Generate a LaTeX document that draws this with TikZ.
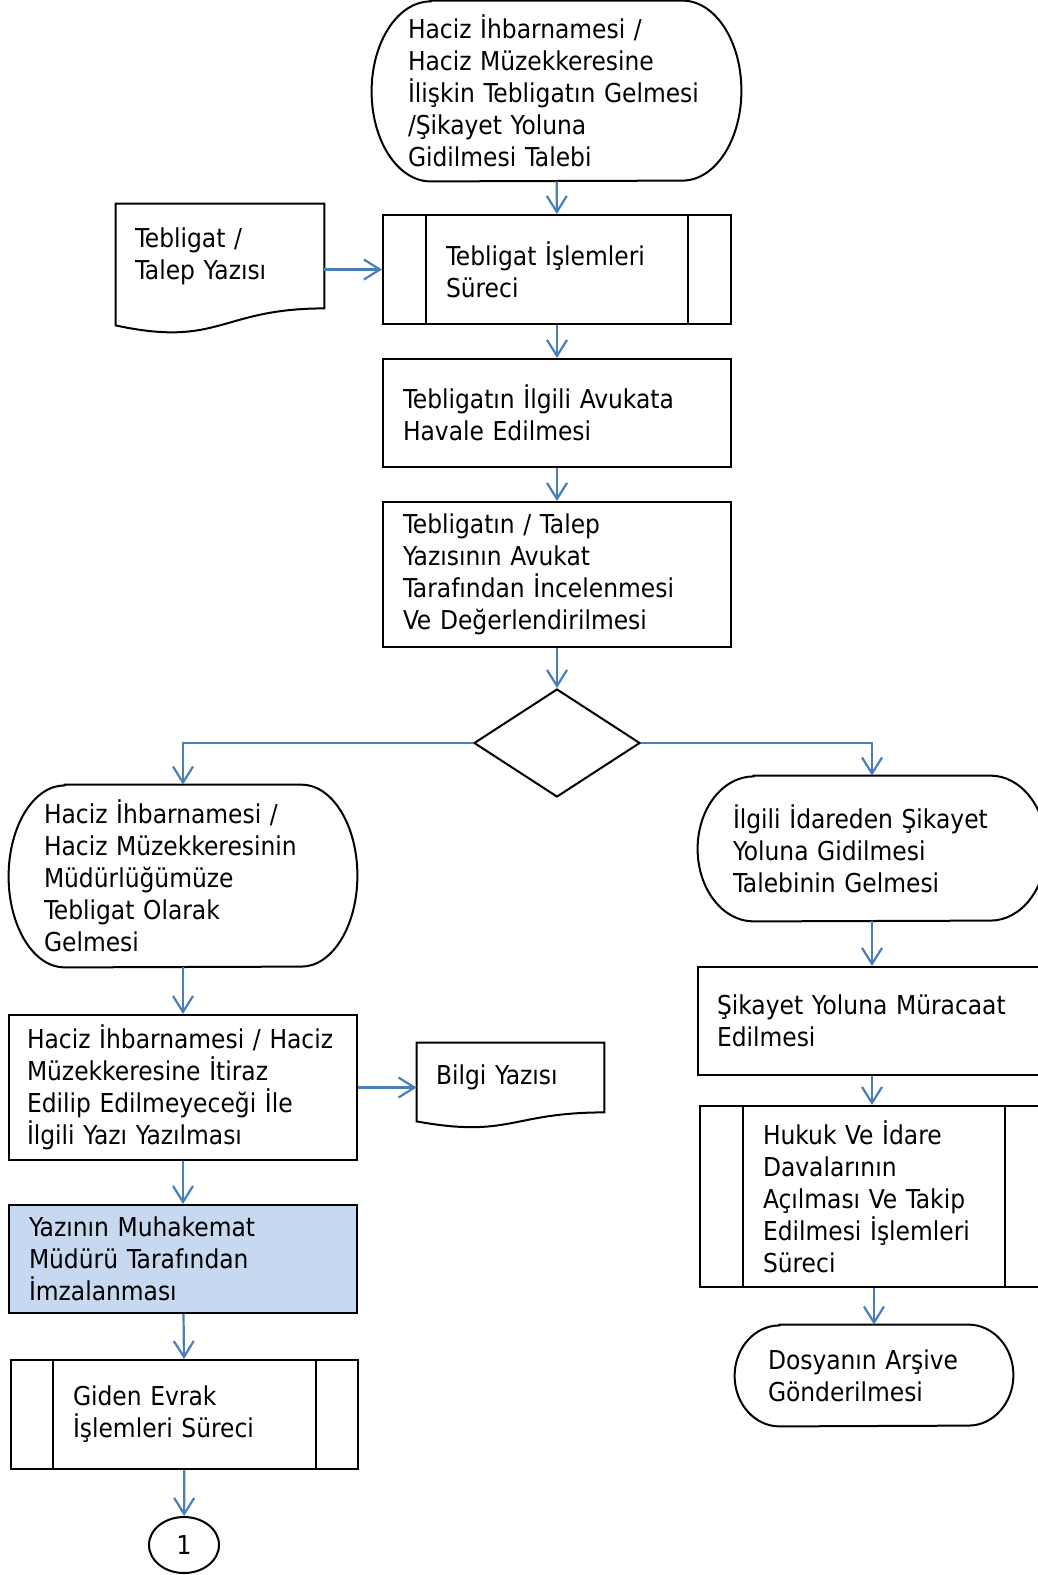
\documentclass[tikz,border=0pt]{standalone}
\usepackage{fontspec}
\setmainfont{DejaVu Sans Condensed}
\usepackage{tikz}
\usetikzlibrary{shapes.geometric,arrows.meta,calc}

\definecolor{lineblue}{HTML}{4A7EBB}
\definecolor{fillblue}{HTML}{C6D9F1}

% terminator outline round a node: name, end x radius, end y radius
\newcommand{\termline}[3]{%
  \draw[line width=1pt] ([xshift=#2]#1.north west) -- ([xshift=-#2]#1.north east)
    arc[start angle=90, end angle=-90, x radius=#2, y radius=#3]
    -- ([xshift=#2]#1.south west)
    arc[start angle=270, end angle=90, x radius=#2, y radius=#3] -- cycle;}

\begin{document}
\begin{tikzpicture}[x=0.5pt, y=-0.5pt,
  txt/.style={inner sep=0pt, align=left, font=\fontsize{13}{16}\selectfont},
  proc/.style={txt, draw, line width=1pt},
  arr/.style={draw=lineblue, line width=1.1pt, -{Straight Barb[length=8pt,width=10pt]}}]
	\clip (0,0) rectangle (1038,1575);

	% middle column
	\node[txt, minimum width=184.5pt, minimum height=90pt, text width=148.5pt] (t1) at (556.5,91)
		{Haciz İhbarnamesi /\\ Haciz Müzekkeresine\\ İlişkin Tebligatın Gelmesi\\ /Şikayet Yoluna\\ Gidilmesi Talebi};
	\termline{t1}{29.5pt}{45pt}

	\node[proc, minimum width=174pt, minimum height=54.5pt, text width=111pt] (p1) at (557,269.5)
		{Tebligat İşlemleri\\ Süreci};
	\draw[line width=1pt] ($(p1.north west)+(44,0)$) -- ($(p1.south west)+(44,0)$);
	\draw[line width=1pt] ($(p1.north east)-(44,0)$) -- ($(p1.south east)-(44,0)$);

	\node[txt, minimum width=104pt, minimum height=52pt, text width=85pt] (doc1) at (220,256)
		{Tebligat /\\ Talep Yazısı};
	\draw[line width=1pt] (doc1.north west) -- (doc1.north east) -- (doc1.south east)
		.. controls (doc1.south) and ($(doc1.south)+(0,39.5)$) .. ($(doc1.south west)+(0,17)$) -- cycle;

	\node[proc, minimum width=174pt, minimum height=54pt, text width=154pt] (b1) at (557,413)
		{Tebligatın İlgili Avukata\\ Havale Edilmesi};
	\node[proc, minimum width=174pt, minimum height=72.5pt, text width=154pt] (b2) at (557,574.5)
		{Tebligatın / Talep\\ Yazısının Avukat\\ Tarafından İncelenmesi\\ Ve Değerlendirilmesi};
	\node[draw, diamond, line width=1pt, minimum width=83pt, minimum height=54pt, inner sep=0pt] (dec) at (557,743) {};

	% left column
	\node[txt, minimum width=174pt, minimum height=91pt, text width=139pt] (lt1) at (183,876)
		{Haciz İhbarnamesi /\\ Haciz Müzekkeresinin\\ Müdürlüğümüze\\ Tebligat Olarak\\ Gelmesi};
	\termline{lt1}{28pt}{45.5pt}

	\node[proc, minimum width=174pt, minimum height=72.5pt, text width=156pt] (lb1) at (183,1087.5)
		{Haciz İhbarnamesi / Haciz\\ Müzekkeresine İtiraz\\ Edilip Edilmeyeceği İle\\ İlgili Yazı Yazılması};

	\node[txt, minimum width=93.5pt, minimum height=34.5pt, text width=74.5pt] (bilgi) at (510.5,1077.5)
		{Bilgi Yazısı};
	\draw[line width=1pt] (bilgi.north west) -- (bilgi.north east) -- (bilgi.south east)
		.. controls (bilgi.south) and ($(bilgi.south)+(0,26)$) .. ($(bilgi.south west)+(0,9)$) -- cycle;

	\node[proc, fill=fillblue, minimum width=174pt, minimum height=54pt, text width=154pt] (lb2) at (183,1259)
		{Yazının Muhakemat\\ Müdürü Tarafından\\ İmzalanması};

	\node[proc, minimum width=173.5pt, minimum height=54.5pt, text width=111.5pt] (lb3) at (184.5,1414.5)
		{Giden Evrak\\ İşlemleri Süreci};
	\draw[line width=1pt] ($(lb3.north west)+(43,0)$) -- ($(lb3.south west)+(43,0)$);
	\draw[line width=1pt] ($(lb3.north east)-(43,0)$) -- ($(lb3.south east)-(43,0)$);

	\node[draw, ellipse, line width=1pt, minimum width=35pt, minimum height=28pt, inner sep=0pt,
		font=\fontsize{13}{16}\selectfont] (con1) at (184,1545) {1};

	% right column
	\node[txt, minimum width=174pt, minimum height=72.5pt, text width=139pt] (rt1) at (872,848.5)
		{İlgili İdareden Şikayet\\ Yoluna Gidilmesi\\ Talebinin Gelmesi};
	\termline{rt1}{28pt}{36.25pt}

	\node[proc, minimum width=174pt, minimum height=54pt, text width=155pt] (rb1) at (872,1021)
		{Şikayet Yoluna Müracaat\\ Edilmesi};

	\node[proc, minimum width=174pt, minimum height=90.5pt, text width=111pt] (rb2) at (874,1196.5)
		{Hukuk Ve İdare\\ Davalarının\\ Açılması Ve Takip\\ Edilmesi İşlemleri\\ Süreci};
	\draw[line width=1pt] ($(rb2.north west)+(44,0)$) -- ($(rb2.south west)+(44,0)$);
	\draw[line width=1pt] ($(rb2.north east)-(44,0)$) -- ($(rb2.south east)-(44,0)$);

	\node[txt, minimum width=139pt, minimum height=50.5pt, text width=106pt] (rb3) at (874,1375.5)
		{Dosyanın Arşive\\ Gönderilmesi};
	\termline{rb3}{22.5pt}{25.25pt}

	% connectors
	\draw[arr] (t1) -- (p1);
	\draw[arr] (doc1.east |- p1.west) -- (p1.west);
	\draw[arr] (p1) -- (b1);
	\draw[arr] (b1) -- (b2);
	\draw[arr] (b2) -- (dec);
	\draw[arr] (dec.west) -| (lt1.north);
	\draw[arr] (dec.east) -| (rt1.north);
	\draw[arr] (lt1) -- (lb1);
	\draw[arr] (lb1.east) -- (lb1.east -| bilgi.west);
	\draw[arr] (lb1) -- (lb2);
	\draw[arr] (lb2) -- (lb3);
	\draw[arr] (lb3) -- (con1);
	\draw[arr] (rt1) -- (rb1);
	\draw[arr] (rb1.south) -- (rb1.south |- rb2.north);
	\draw[arr] (rb2.south) -- (rb2.south |- rb3.north);
\end{tikzpicture}
\end{document}
